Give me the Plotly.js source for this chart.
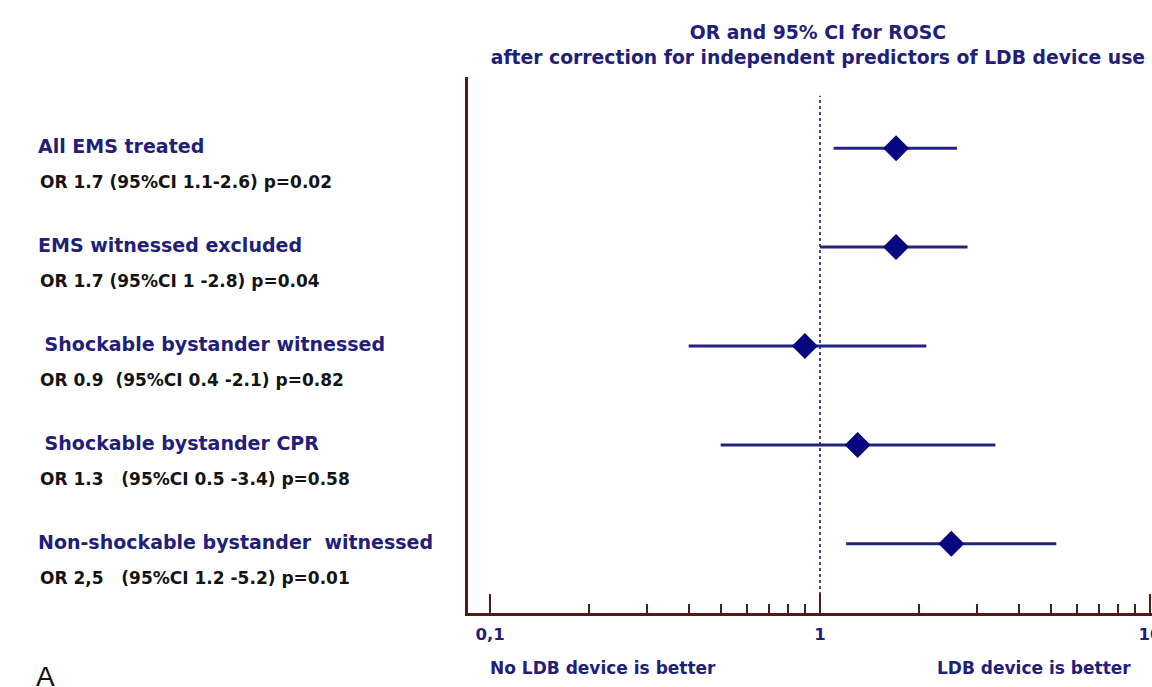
<!DOCTYPE html>
<html>
<head>
<meta charset="utf-8">
<script src="https://cdn.plot.ly/plotly-3.0.1.min.js"></script>
<style>html,body{margin:0;padding:0;background:#fff;}#chart{width:1152px;height:687px;}</style>
</head>
<body>
<div id="chart"></div>
<script>
// ---- data ----
var groups = ["All EMS treated", "EMS witnessed excluded", " Shockable bystander witnessed", " Shockable bystander CPR", "Non-shockable bystander  witnessed"];
var summaries = ["OR 1.7 (95%CI 1.1-2.6) p=0.02", "OR 1.7 (95%CI 1 -2.8) p=0.04", "OR 0.9  (95%CI 0.4 -2.1) p=0.82", "OR 1.3   (95%CI 0.5 -3.4) p=0.58", "OR 2,5   (95%CI 1.2 -5.2) p=0.01"];
var oddsRatio = [1.7, 1.7, 0.9, 1.3, 2.5];
var ciLow = [1.1, 1.0, 0.4, 0.5, 1.2];
var ciHigh = [2.6, 2.8, 2.1, 3.4, 5.2];
var majorTicks = [0.1, 1, 10];
var majorTickText = ["0,1", "1", "10"];
var minorTicks = [0.2, 0.3, 0.4, 0.5, 0.6, 0.7, 0.8, 0.9, 2, 3, 4, 5, 6, 7, 8, 9];
var titleText = "OR and 95% CI for ROSC<br>after correction for independent predictors of LDB device use";
var leftNote = "No LDB device is better";
var rightNote = "LDB device is better";

// ---- styles ----
var NAVY = "#1f2078";
var MARK = "#07077f";
var AXIS = "#551818";
var BLUEFONT = {family: "DejaVu Sans", size: 19, color: NAVY, weight: "bold"};
var BLACKFONT = {family: "DejaVu Sans", size: 17, color: "#141414", weight: "bold"};
var NOTEFONT = {family: "DejaVu Sans", size: 17, color: NAVY, weight: "bold"};

function nb(s) { return s.replace(/ /g, "\u00a0"); }

var rows = groups.map(function (_, i) { return i; });

var trace = {
  type: "scatter",
  mode: "markers",
  x: oddsRatio,
  y: rows,
  marker: {symbol: "diamond", size: 20, color: MARK, line: {width: 0}},
  error_x: {
    type: "data", symmetric: false,
    array: ciHigh.map(function (h, i) { return h - oddsRatio[i]; }),
    arrayminus: ciLow.map(function (l, i) { return oddsRatio[i] - l; }),
    color: "#23237f", thickness: 3, width: 0
  },
  hoverinfo: "skip",
  showlegend: false
};

var annotations = [];
groups.forEach(function (g, i) {
  annotations.push({xref: "paper", yref: "y", x: -0.6316, y: i, yshift: 2, xanchor: "left", yanchor: "middle",
    text: nb(g), showarrow: false, font: BLUEFONT});
  annotations.push({xref: "paper", yref: "y", x: -0.6287, y: i, yshift: -34, xanchor: "left", yanchor: "middle",
    text: nb(summaries[i]), showarrow: false, font: BLACKFONT});
});
annotations.push({xref: "paper", yref: "paper", x: 0.197, y: -0.1026, xanchor: "center", yanchor: "middle",
  text: leftNote, showarrow: false, font: NOTEFONT});
annotations.push({xref: "paper", yref: "paper", x: 0.8275, y: -0.1026, xanchor: "center", yanchor: "middle",
  text: rightNote, showarrow: false, font: NOTEFONT});
annotations.push({xref: "paper", yref: "paper", x: -0.6345, y: -0.086, xanchor: "left", yanchor: "top",
  text: "A", showarrow: false, font: {family: "Liberation Sans", size: 28, color: "#111"}});

var layout = {
  width: 1152, height: 687,
  paper_bgcolor: "#ffffff", plot_bgcolor: "#ffffff",
  margin: {l: 468, r: 0, t: 77, b: 74},
  title: {
    text: titleText, xref: "container", yref: "container", x: 0.71, xanchor: "center",
    y: 0.943, yanchor: "top",
    font: {family: "DejaVu Sans", size: 18.8, color: NAVY, weight: "bold"}
  },
  xaxis: {
    type: "log", range: [-1.0667, 1.0061],
    showgrid: false, zeroline: false,
    showline: true, linecolor: AXIS, linewidth: 3,
    tickmode: "array", tickvals: majorTicks, ticktext: majorTickText,
    ticks: "inside", ticklen: 19, tickwidth: 2.5, tickcolor: AXIS,
    ticklabeloverflow: "allow", ticklabelstandoff: 4,
    tickfont: {family: "DejaVu Sans", size: 16.5, color: NAVY, weight: "bold"},
    minor: {tickmode: "array", tickvals: minorTicks, ticks: "inside", ticklen: 9, tickwidth: 2, tickcolor: AXIS, showgrid: false},
    fixedrange: true
  },
  yaxis: {
    range: [4.7, -0.72],
    showgrid: false, zeroline: false, showticklabels: false, ticks: "",
    showline: true, linecolor: AXIS, linewidth: 3, mirror: false,
    fixedrange: true
  },
  shapes: [{
    type: "line", xref: "x", yref: "paper", x0: 1, x1: 1, y0: 0, y1: 0.965,
    line: {color: "#45458a", width: 2, dash: "dot"}, layer: "below"
  }],
  annotations: annotations
};

Plotly.newPlot("chart", [trace], layout, {displayModeBar: false, staticPlot: true});
</script>
</body>
</html>
